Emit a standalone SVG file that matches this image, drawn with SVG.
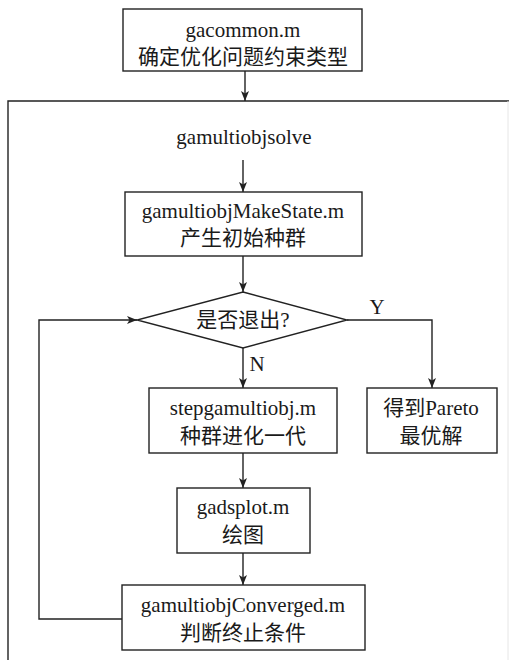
<svg xmlns="http://www.w3.org/2000/svg" width="509" height="660" viewBox="0 0 509 660">
  <style>
    .box { fill: #fff; stroke: #222; stroke-width: 1.4; }
    .line { fill: none; stroke: #222; stroke-width: 1.4; }
    .arrow { fill: none; stroke: #222; stroke-width: 1.4; marker-end: url(#head); }
    .t { font-family: "Liberation Serif", "Noto Sans CJK SC", serif; font-size: 21px; fill: #1a1a1a; text-anchor: middle; dominant-baseline: central; }
  </style>
  <defs>
    <marker id="head" viewBox="0 0 10 8" refX="10" refY="4" markerWidth="10" markerHeight="8" markerUnits="userSpaceOnUse" orient="auto">
      <path d="M0,0 L10,4 L0,8 L2.5,4 Z" fill="#222"/>
    </marker>
  </defs>
  <rect width="509" height="660" fill="#fff"/>

  <!-- solver frame -->
  <g id="frame">
    <path class="line" d="M8,660 V101 H509"/>
    <line x1="508" y1="101" x2="508" y2="660" stroke="#e6e6e6" stroke-width="1"/>
  </g>

  <!-- connectors -->
  <g id="connectors">
    <line class="arrow" x1="245" y1="71" x2="245" y2="101"/>
    <line class="arrow" x1="243" y1="160" x2="243" y2="192"/>
    <line class="arrow" x1="243" y1="256" x2="243" y2="292"/>
    <line class="arrow" x1="243" y1="348" x2="243" y2="388"/>
    <path class="arrow" d="M347,320 H432 V388"/>
    <line class="arrow" x1="243" y1="453" x2="243" y2="488"/>
    <line class="arrow" x1="243" y1="553" x2="243" y2="585"/>
    <path class="arrow" d="M122,619 H39 V320 H137"/>
    <text class="t" x="377" y="307">Y</text>
    <text class="t" x="257" y="364">N</text>
  </g>

  <g id="gacommon">
    <rect class="box" x="123" y="9" width="239" height="62"/>
    <text class="t" x="243" y="30">gacommon.m</text>
    <text class="t" x="243" y="57">确定优化问题约束类型</text>
  </g>

  <g id="gamultiobjsolve">
    <text class="t" x="244" y="137">gamultiobjsolve</text>
  </g>

  <g id="makestate">
    <rect class="box" x="125" y="192" width="237" height="64"/>
    <text class="t" x="243" y="211">gamultiobjMakeState.m</text>
    <text class="t" x="243" y="238">产生初始种群</text>
  </g>

  <g id="decision">
    <polygon class="box" points="243,292 347,320 243,348 137,320"/>
    <text class="t" x="243" y="320">是否退出?</text>
  </g>

  <g id="stepgamultiobj">
    <rect class="box" x="149" y="388" width="188" height="65"/>
    <text class="t" x="243" y="408">stepgamultiobj.m</text>
    <text class="t" x="243" y="436">种群进化一代</text>
  </g>

  <g id="pareto">
    <rect class="box" x="367" y="388" width="130" height="65"/>
    <text class="t" x="431" y="408">得到Pareto</text>
    <text class="t" x="431" y="436">最优解</text>
  </g>

  <g id="gadsplot">
    <rect class="box" x="177" y="488" width="133" height="65"/>
    <text class="t" x="243" y="507">gadsplot.m</text>
    <text class="t" x="243" y="535">绘图</text>
  </g>

  <g id="converged">
    <rect class="box" x="122" y="585" width="243" height="65"/>
    <text class="t" x="243" y="605">gamultiobjConverged.m</text>
    <text class="t" x="243" y="633">判断终止条件</text>
  </g>
</svg>
